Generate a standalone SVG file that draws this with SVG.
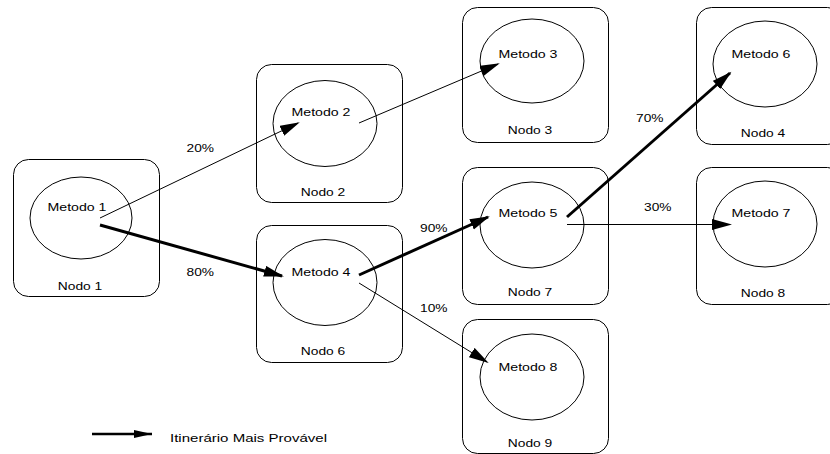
<svg xmlns="http://www.w3.org/2000/svg" width="830" height="454" viewBox="0 0 830 454">
<style>
.box{fill:#fff;stroke:#000;stroke-width:1}
.circ{fill:none;stroke:#000;stroke-width:1}
text{font-family:"Liberation Sans",Arial,sans-serif;font-size:11px;fill:#000}
.m{text-anchor:middle}
.thin{stroke:#000;stroke-width:1;fill:none}
.thick{stroke:#000;stroke-width:3;fill:none}
</style>
<defs>
<marker id="ah" markerUnits="userSpaceOnUse" markerWidth="22" markerHeight="12" refX="18" refY="5.5" orient="auto">
<path d="M0,0 L20,5.5 L0,11 z" fill="#000"/>
</marker>
<marker id="ahl" markerUnits="userSpaceOnUse" markerWidth="20" markerHeight="10" refX="18" refY="4" orient="auto">
<path d="M0,0 L18,4 L0,8 z" fill="#000"/>
</marker>
</defs>
<rect width="830" height="454" fill="#fff"/>
<g id="node1">
<rect class="box" x="13.5" y="159.5" width="146" height="137" rx="15"/>
<ellipse class="circ" cx="81" cy="218" rx="51" ry="41"/>
<text class="m" x="77" y="211" textLength="59" lengthAdjust="spacingAndGlyphs">Metodo 1</text>
<text class="m" x="80" y="290" textLength="44.5" lengthAdjust="spacingAndGlyphs">Nodo 1</text>
</g>
<g id="node2">
<rect class="box" x="256.5" y="64.5" width="146" height="138" rx="15"/>
<ellipse class="circ" cx="325" cy="123.5" rx="52" ry="43"/>
<text class="m" x="321" y="116" textLength="59" lengthAdjust="spacingAndGlyphs">Metodo 2</text>
<text class="m" x="323" y="196" textLength="44.5" lengthAdjust="spacingAndGlyphs">Nodo 2</text>
</g>
<g id="node6">
<rect class="box" x="256.5" y="225.5" width="146" height="137" rx="15"/>
<ellipse class="circ" cx="325" cy="282.5" rx="52" ry="43"/>
<text class="m" x="321" y="276" textLength="59" lengthAdjust="spacingAndGlyphs">Metodo 4</text>
<text class="m" x="323" y="355" textLength="44.5" lengthAdjust="spacingAndGlyphs">Nodo 6</text>
</g>
<g id="node3">
<rect class="box" x="462.5" y="7.5" width="146" height="135" rx="15"/>
<ellipse class="circ" cx="532" cy="61" rx="52" ry="42"/>
<text class="m" x="528" y="58" textLength="59" lengthAdjust="spacingAndGlyphs">Metodo 3</text>
<text class="m" x="530" y="134" textLength="44.5" lengthAdjust="spacingAndGlyphs">Nodo 3</text>
</g>
<g id="node7">
<rect class="box" x="462.5" y="167.5" width="146" height="137" rx="15"/>
<ellipse class="circ" cx="532" cy="225" rx="52" ry="43"/>
<text class="m" x="528" y="217" textLength="59" lengthAdjust="spacingAndGlyphs">Metodo 5</text>
<text class="m" x="530" y="296" textLength="44.5" lengthAdjust="spacingAndGlyphs">Nodo 7</text>
</g>
<g id="node9">
<rect class="box" x="462.5" y="319.5" width="146" height="134" rx="15"/>
<ellipse class="circ" cx="532" cy="377" rx="52" ry="43"/>
<text class="m" x="528" y="371" textLength="59" lengthAdjust="spacingAndGlyphs">Metodo 8</text>
<text class="m" x="530" y="447" textLength="44.5" lengthAdjust="spacingAndGlyphs">Nodo 9</text>
</g>
<g id="node4">
<rect class="box" x="696.5" y="7.5" width="146" height="137" rx="15"/>
<ellipse class="circ" cx="765" cy="64" rx="52" ry="43"/>
<text class="m" x="761" y="58" textLength="59" lengthAdjust="spacingAndGlyphs">Metodo 6</text>
<text class="m" x="763" y="137" textLength="44.5" lengthAdjust="spacingAndGlyphs">Nodo 4</text>
</g>
<g id="node8">
<rect class="box" x="696.5" y="167.5" width="146" height="137" rx="15"/>
<ellipse class="circ" cx="765" cy="224" rx="52" ry="43"/>
<text class="m" x="761" y="217" textLength="59" lengthAdjust="spacingAndGlyphs">Metodo 7</text>
<text class="m" x="763" y="297" textLength="44.5" lengthAdjust="spacingAndGlyphs">Nodo 8</text>
</g>
<g id="connectors">
<line class="thin" x1="100" y1="218" x2="298" y2="123" marker-end="url(#ah)"/>
<line class="thick" x1="100" y1="225" x2="282" y2="276" marker-end="url(#ah)"/>
<line class="thin" x1="359" y1="123" x2="498" y2="64" marker-end="url(#ah)"/>
<line class="thick" x1="359" y1="275" x2="488" y2="217" marker-end="url(#ah)"/>
<line class="thin" x1="359" y1="283" x2="487" y2="362" marker-end="url(#ah)"/>
<line class="thick" x1="567" y1="217" x2="730" y2="73" marker-end="url(#ah)"/>
<line class="thin" x1="567" y1="224.5" x2="730" y2="224.5" marker-end="url(#ah)"/>
<text x="186.5" y="152" textLength="27.5" lengthAdjust="spacingAndGlyphs">20%</text>
<text x="186.5" y="276" textLength="27.5" lengthAdjust="spacingAndGlyphs">80%</text>
<text x="420" y="232" textLength="27.5" lengthAdjust="spacingAndGlyphs">90%</text>
<text x="420" y="312" textLength="27.5" lengthAdjust="spacingAndGlyphs">10%</text>
<text x="636" y="122" textLength="27.5" lengthAdjust="spacingAndGlyphs">70%</text>
<text x="644" y="211" textLength="27.5" lengthAdjust="spacingAndGlyphs">30%</text>
</g>
<g id="legend">
<line x1="92" y1="434" x2="152" y2="434" stroke="#000" stroke-width="2.5" marker-end="url(#ahl)"/>
<text x="170" y="442" textLength="157" lengthAdjust="spacingAndGlyphs">Itinerário Mais Provável</text>
</g>
</svg>
